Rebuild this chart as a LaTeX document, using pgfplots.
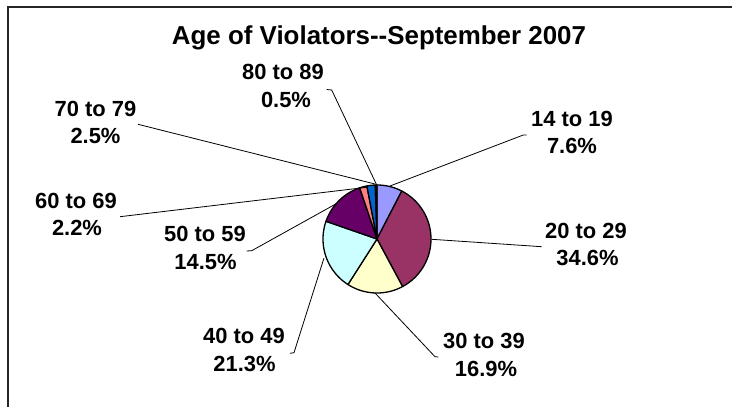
\documentclass[border=0pt]{standalone}
\usepackage{pgfplots}
\pgfplotsset{compat=1.18}
\usepgfplotslibrary{polar}
\usepackage{fontspec}
\setmainfont{Liberation Sans}
\definecolor{s1}{HTML}{9999FF}
\definecolor{s2}{HTML}{993366}
\definecolor{s3}{HTML}{FFFFCC}
\definecolor{s4}{HTML}{CCFFFF}
\definecolor{s5}{HTML}{660066}
\definecolor{s6}{HTML}{FF8080}
\definecolor{s7}{HTML}{0066CC}
\definecolor{s8}{HTML}{CCCCFF}
% shares (percent) of each age group
% 14-19: 7.6, 20-29: 34.6, 30-39: 16.9, 40-49: 21.3, 50-59: 14.5, 60-69: 2.2, 70-79: 2.5, 80-89: 0.5
\def\tot{100.1}
\newcommand{\pieslice}[3]{%
  \addplot[fill=#3, draw=black, line width=1.3bp, line join=round, domain={90-360*(#2)/\tot}:{90-360*(#1)/\tot}, samples=60] {1} -- (axis cs:0,0) -- cycle;
}
\begin{document}
\begin{tikzpicture}
\useasboundingbox (0,-407bp) rectangle (732bp,0);
\begin{polaraxis}[
  at={(377bp,-239bp)}, anchor=center,
  scale only axis, width=108bp, height=108bp,
  xmin=0, xmax=360, ymin=0, ymax=1,
  hide axis, clip=false,
]
\pieslice{0}{7.6}{s1}
\pieslice{7.6}{42.2}{s2}
\pieslice{42.2}{59.1}{s3}
\pieslice{59.1}{80.4}{s4}
\pieslice{80.4}{94.9}{s5}
\pieslice{94.9}{97.1}{s6}
\pieslice{97.1}{99.6}{s7}
\pieslice{99.6}{100.1}{s8}
\end{polaraxis}
\begin{scope}[x=1bp,y=-1bp]
\draw[line width=1.3bp, black!85] (8,407) -- (8,7) -- (732,7);
% leader lines
\begin{scope}[line width=0.8bp]
\draw (326.7,89.5) -- (331.7,90) -- (376.7,185);
\draw (138,124.3) -- (375,184);
\draw (120,216.7) -- (366.7,187.3);
\draw (246.7,251) -- (251.7,250.7) -- (337,203.3);
\draw (290,353.3) -- (294,352.7) -- (324,258);
\draw (438.3,357) -- (435,356.7) -- (375,293);
\draw (541.7,246.7) -- (431.7,239.3);
\draw (526.7,135) -- (523.3,135) -- (390,186);
\end{scope}
% title
\node[anchor=base, font=\bfseries\fontsize{26}{30}\selectfont, inner sep=0] at (379,44.3) {Age of Violators-{}-September 2007};
% labels
\tikzset{lab/.style={anchor=base, inner sep=0, font=\bfseries\fontsize{22}{26}\selectfont}}
\node[lab] at (572,126) {14 to 19};
\node[lab] at (572,153.3) {7.6\%};
\node[lab] at (586,238.3) {20 to 29};
\node[lab] at (587.5,265.5) {34.6\%};
\node[lab] at (484,348.3) {30 to 39};
\node[lab] at (486,376) {16.9\%};
\node[lab] at (244,343.3) {40 to 49};
\node[lab] at (244.5,371) {21.3\%};
\node[lab] at (205,241.8) {50 to 59};
\node[lab] at (205.5,269.3) {14.5\%};
\node[lab] at (76,208.3) {60 to 69};
\node[lab] at (77,235.3) {2.2\%};
\node[lab] at (95.5,116) {70 to 79};
\node[lab] at (95.5,143.3) {2.5\%};
\node[lab] at (283,79.5) {80 to 89};
\node[lab] at (286,107.3) {0.5\%};
\end{scope}
\end{tikzpicture}
\end{document}
